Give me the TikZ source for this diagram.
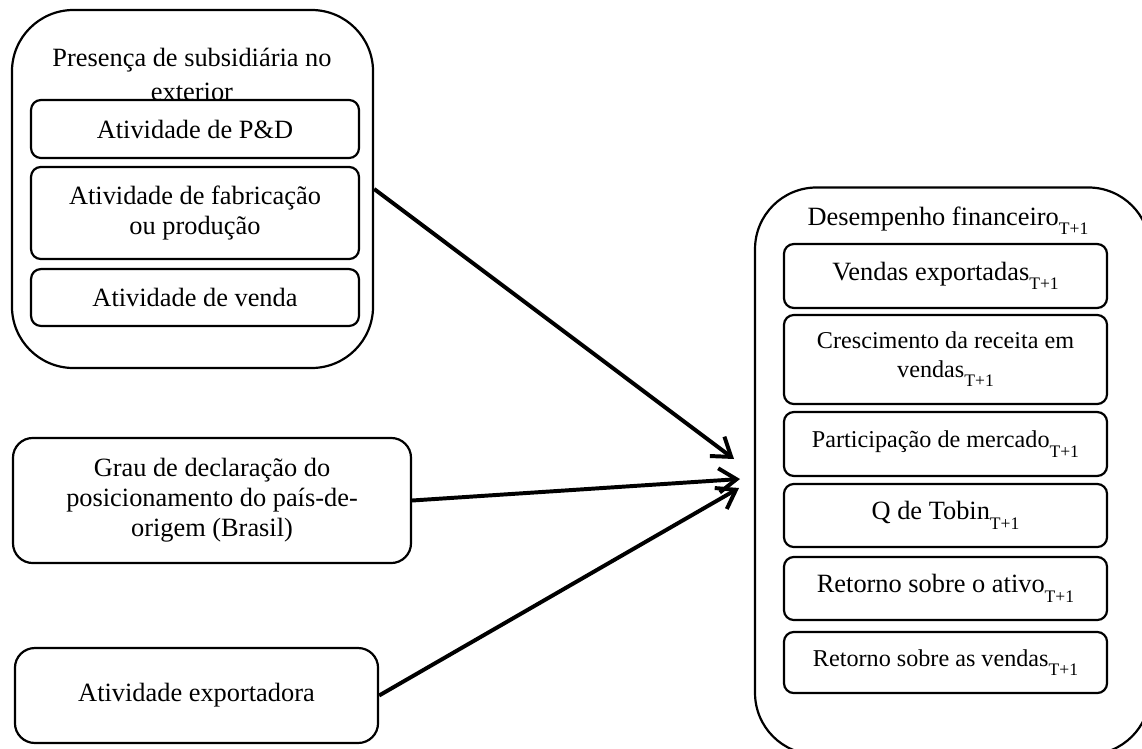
\documentclass[tikz,border=0pt]{standalone}
\usepackage{fontspec}
\setmainfont{Liberation Serif}
\usetikzlibrary{arrows.meta}
\newcommand{\tnext}{\raisebox{-4.3pt}{\fontsize{8}{8}\selectfont T+1}}

\begin{document}
\begin{tikzpicture}[x=0.455pt, y=-0.455pt,
    box/.style={draw, line width=1pt, rounded corners=4.5pt, inner sep=0pt,
      align=center, font=\fontsize{12}{13.6}\selectfont},
    smallbox/.style={box, font=\fontsize{11}{13}\selectfont},
    bigbox/.style={draw, line width=1pt, rounded corners=28pt, inner sep=0pt},
    link/.style={line width=1.8pt, -{Straight Barb[length=8pt, width=11pt]}}]
             \useasboundingbox (0,0) rectangle (1142,748);
             \clip (0,0) rectangle (1142,748);

             % left column
             \node[bigbox, minimum width=164.3pt, minimum height=162.9pt] (subs) at (192.5,189) {};
             \node[draw=none, align=center, font=\fontsize{12}{15.5}\selectfont] (substitle) at (192,74)
               {Presença de subsidiária no\\exterior};
             \node[box, minimum width=149.2pt, minimum height=26.4pt] (pd) at (195,129) {Atividade de P\&D};
             \node[box, minimum width=149.2pt, minimum height=41.9pt] (fab) at (195,213)
               {Atividade de fabricação\\ou produção};
             \node[box, minimum width=149.2pt, minimum height=25.9pt] (venda) at (195,297.5) {Atividade de venda};

             \node[box, rounded corners=9pt, minimum width=181.1pt, minimum height=56.9pt] (grau) at (212,500.5)
               {Grau de declaração do\\posicionamento do país-de-\\origem (Brasil)};
             \node[box, rounded corners=9pt, minimum width=165.2pt, minimum height=43.2pt] (export) at (196.5,695.5)
               {Atividade exportadora};

             % right column
             \node[bigbox, minimum width=179.7pt, minimum height=258pt] (fin) at (952.5,471) {};
             \node[draw=none, anchor=base, font=\fontsize{12}{14}\selectfont] (fintitle) at (948,225)
               {Desempenho financeiro\tnext};
             \node[box, minimum width=147pt, minimum height=29.1pt] (vendas) at (945.5,276)
               {Vendas exportadas\tnext};
             \node[smallbox, minimum width=147pt, minimum height=40.5pt] (cresc) at (945.5,359.5)
               {Crescimento da receita em\\vendas\tnext};
             \node[smallbox, minimum width=147pt, minimum height=29.1pt] (part) at (945.5,444)
               {Participação de mercado\tnext};
             \node[box, minimum width=147pt, minimum height=28.7pt] (tobin) at (945.5,515.5)
               {Q de Tobin\tnext};
             \node[box, minimum width=147pt, minimum height=28.7pt] (roa) at (945.5,588.5)
               {Retorno sobre o ativo\tnext};
             \node[smallbox, minimum width=147pt, minimum height=27.8pt] (ros) at (945.5,662.5)
               {Retorno sobre as vendas\tnext};

             % arrows
             \coordinate (tipa) at (734,459);
             \coordinate (tipb) at (740,479);
             \coordinate (tipc) at (739,488);
             \draw[link] (subs.east) -- (tipa);
             \draw[link] (grau.east) -- (tipb);
             \draw[link] (export.east) -- (tipc);
             \end{tikzpicture}
\end{document}
